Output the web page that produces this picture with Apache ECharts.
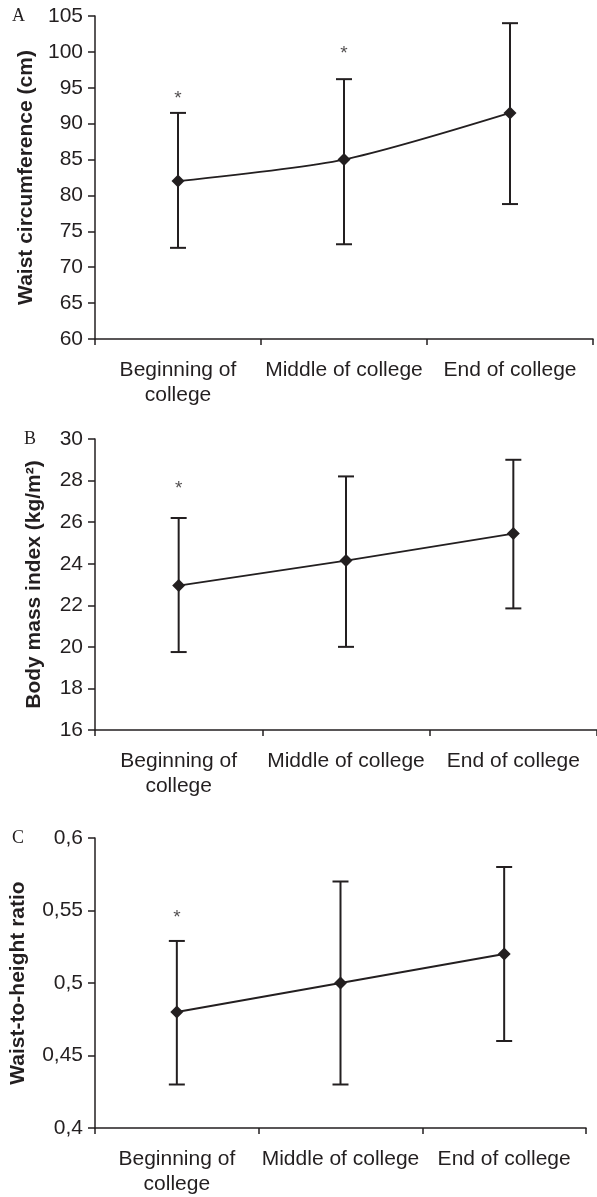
<!DOCTYPE html>
<html>
<head>
<meta charset="utf-8">
<script src="https://cdn.jsdelivr.net/npm/echarts@6/dist/echarts.min.js"></script>
<style>
html,body{margin:0;padding:0;background:#fff;}
#chart{width:597px;height:1197px;}
</style>
</head>
<body>
<div id="chart"></div>
<script>
// ---- data ----
var categories = ['Beginning of\ncollege', 'Middle of college', 'End of college'];

var waistMean = [82, 85, 91.5];
var waistLow  = [72.7, 73.2, 78.8];
var waistHigh = [91.5, 96.2, 104];
var waistStar = [93.4, 99.7, null];

var bmiMean = [22.95, 24.15, 25.45];
var bmiLow  = [19.75, 20.0, 21.85];
var bmiHigh = [26.2, 28.2, 29.0];
var bmiStar = [27.6, null, null];

var whrMean = [0.48, 0.5, 0.52];
var whrLow  = [0.43, 0.43, 0.46];
var whrHigh = [0.529, 0.57, 0.58];
var whrStar = [0.545, null, null];

var yTitles = ['Waist circumference (cm)', 'Body mass index (kg/m\u00B2)', 'Waist-to-height ratio'];
var panelLetters = ['A', 'B', 'C'];
var yRanges = [[60, 105, 5], [16, 30, 2], [0.4, 0.6, 0.05]];

// ---- styling ----
var INK = '#231f20';
var FONT = 'Liberation Sans, Arial, sans-serif';

var grids = [
  {left: 95, top: 16, width: 498, height: 323},
  {left: 95, top: 439, width: 508, height: 291},
  {left: 93, top: 838, width: 493, height: 290}
];
var nameGaps = [58, 50, 66];

function xAxisFor(i) {
  return {
    type: 'category', gridIndex: i, data: categories,
    boundaryGap: true,
    axisLine: {show: true, lineStyle: {color: INK, width: 1.5}},
    axisTick: {show: true, length: 6, inside: false, alignWithLabel: false, lineStyle: {color: INK, width: 1.5}},
    axisLabel: {interval: 0, color: INK, fontFamily: FONT, fontSize: 21, lineHeight: 25, margin: 19},
    splitLine: {show: false}
  };
}
function yAxisFor(i) {
  var r = yRanges[i];
  return {
    type: 'value', gridIndex: i, min: r[0], max: r[1], interval: r[2],
    name: yTitles[i], nameLocation: 'middle', nameGap: nameGaps[i], nameRotate: 90,
    nameTextStyle: {color: INK, fontFamily: FONT, fontSize: 21, fontWeight: 'bold'},
    axisLine: {show: true, lineStyle: {color: INK, width: 1.5}},
    axisTick: {show: true, length: 7, inside: false, lineStyle: {color: INK, width: 1.5}},
    axisLabel: {color: INK, fontFamily: FONT, fontSize: 21, margin: 12,
      formatter: function (v) { return String(+(+v).toFixed(2)).replace('.', ','); }},
    splitLine: {show: false}
  };
}

function errorSeries(i, low, high) {
  return {
    type: 'custom', xAxisIndex: i, yAxisIndex: i, z: 3,
    data: low.map(function (l, k) { return [k, l, high[k]]; }),
    encode: {x: 0, y: [1, 2]},
    renderItem: function (params, api) {
      var x = api.value(0);
      var p1 = api.coord([x, api.value(1)]);
      var p2 = api.coord([x, api.value(2)]);
      var hw = 8;
      var st = {stroke: INK, lineWidth: 2};
      return {type: 'group', children: [
        {type: 'line', shape: {x1: p1[0], y1: p1[1], x2: p2[0], y2: p2[1]}, style: st},
        {type: 'line', shape: {x1: p1[0] - hw, y1: p1[1], x2: p1[0] + hw, y2: p1[1]}, style: st},
        {type: 'line', shape: {x1: p2[0] - hw, y1: p2[1], x2: p2[0] + hw, y2: p2[1]}, style: st}
      ]};
    }
  };
}
function meanSeries(i, mean, smooth) {
  return {
    type: 'line', xAxisIndex: i, yAxisIndex: i, z: 4, data: mean, smooth: smooth,
    symbol: 'diamond', symbolSize: [13, 13], showSymbol: true,
    itemStyle: {color: INK, borderWidth: 0},
    lineStyle: {color: INK, width: 1.8},
    emphasis: {disabled: true}, animation: false
  };
}
function starSeries(i, stars) {
  return {
    type: 'scatter', xAxisIndex: i, yAxisIndex: i, z: 5,
    data: stars.map(function (s, k) { return s == null ? null : [k, s]; }).filter(function (d) { return d; }),
    symbol: 'circle', symbolSize: 1, itemStyle: {color: 'rgba(0,0,0,0)'},
    label: {show: true, position: 'inside', formatter: '*', color: INK, fontFamily: FONT, fontSize: 19},
    emphasis: {disabled: true}
  };
}

var letterPos = [[12, 7], [24, 430], [12, 829]];

var option = {
  backgroundColor: '#fff',
  animation: false,
  grid: grids,
  xAxis: [0, 1, 2].map(xAxisFor),
  yAxis: [0, 1, 2].map(yAxisFor),
  graphic: panelLetters.map(function (t, i) {
    return {type: 'text', left: letterPos[i][0], top: letterPos[i][1],
      style: {text: t, fill: INK, font: '18px "Liberation Serif", "Times New Roman", serif'}};
  }),
  series: [
    errorSeries(0, waistLow, waistHigh), meanSeries(0, waistMean, 0.25), starSeries(0, waistStar),
    errorSeries(1, bmiLow, bmiHigh), meanSeries(1, bmiMean, false), starSeries(1, bmiStar),
    errorSeries(2, whrLow, whrHigh), meanSeries(2, whrMean, false), starSeries(2, whrStar)
  ]
};

var chart = echarts.init(document.getElementById('chart'), null, {renderer: 'canvas'});
chart.setOption(option);
</script>
</body>
</html>
